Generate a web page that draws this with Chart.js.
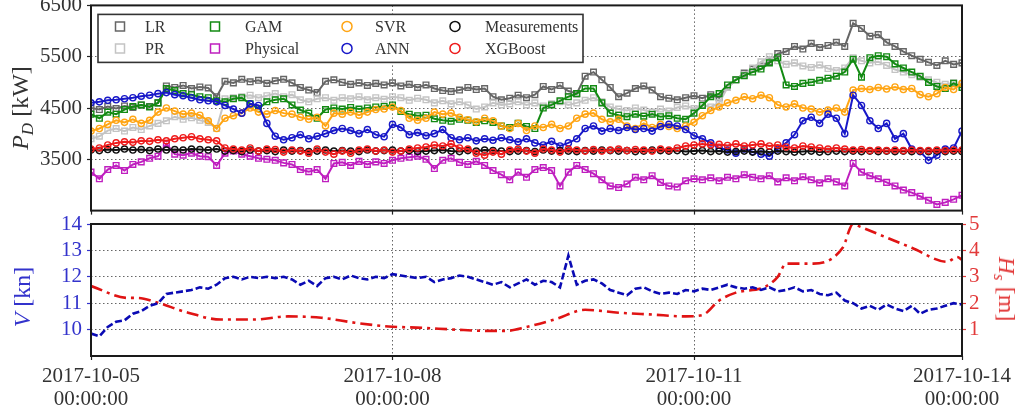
<!DOCTYPE html>
<html>
<head>
<meta charset="utf-8">
<script src="https://cdn.jsdelivr.net/npm/chart.js@4.4.1/dist/chart.umd.min.js"></script>
<style>
  body { margin: 0; background: #fff; }
  #wrap { position: relative; width: 1027px; height: 417px; overflow: hidden; font-family: "Liberation Serif", serif; }
  #wrap canvas { position: absolute; left: 0; }
  .ytitle { position: absolute; white-space: nowrap; font-size: 24px; line-height: 1; }
  .ytitle sub { font-size: 17px; vertical-align: -5px; }
</style>
</head>
<body>
<div id="wrap">
  <canvas id="power" width="1027" height="216" style="top:0"></canvas>
  <canvas id="speed" width="1027" height="201" style="top:216px"></canvas>
  <div class="ytitle" style="left:22px;top:108px;color:#333;transform:translate(-50%,-50%) rotate(-90deg)"><i>P</i><sub><i>D</i></sub> [kW]</div>
  <div class="ytitle" style="left:22px;top:297px;color:#3333cc;transform:translate(-50%,-50%) rotate(-90deg)"><i>V</i> [kn]</div>
  <div class="ytitle" style="left:1005px;top:289px;color:#e23a3a;transform:translate(-50%,-50%) rotate(90deg)"><i>H</i><sub><i>s</i></sub> [m]</div>
</div>
<script>
// time axis: hours after 2017-10-05 00:00, one sample every 2 hours
const hours = Array.from({ length: 105 }, (_, i) => i * 2);
const tickHours = [0, 72, 144, 208];
const tickDates = ["2017-10-05", "2017-10-08", "2017-10-11", "2017-10-14"];
const tickTime = "00:00:00";
const powerTicks = [3500, 4500, 5500, 6500];
const speedTicks = [10, 11, 12, 13, 14];
const waveTicks = [1, 2, 3, 4, 5];

// propulsion power P_D [kW]
const lrPower = [4500,4470,4530,4490,4540,4510,4560,4530,4600,4930,
  4900,4940,4880,4910,4890,4720,5020,4990,5060,5010,
  5040,4980,5030,5060,4990,4900,4850,4800,5020,5050,
  5000,4960,4990,4940,4980,4950,4990,4930,4960,4900,
  4950,4880,4840,4820,4850,4900,4860,4880,4720,4660,
  4690,4750,4700,4760,4920,4860,4940,4830,4780,5120,
  5200,5050,4900,4720,4790,4880,4930,4850,4720,4690,
  4660,4700,4740,4690,4760,4700,4900,5050,5180,5260,
  5320,5400,5560,5600,5700,5650,5760,5680,5720,5780,
  5700,6150,6050,5900,5930,5780,5700,5600,5520,5450,
  5390,5330,5420,5350,5380];
const prPower = [3900,3950,4060,4100,4050,4120,4080,4150,4200,4250,
  4330,4280,4310,4260,4220,4100,4680,4700,4720,4750,
  4700,4740,4780,4720,4760,4660,4620,4680,4700,4650,
  4700,4680,4720,4660,4700,4670,4720,4700,4650,4690,
  4660,4600,4640,4580,4620,4560,4480,4520,4600,4560,
  4580,4620,4560,4600,4540,4580,4620,4560,4600,4650,
  4700,4620,4520,4480,4450,4500,4460,4420,4480,4440,
  4510,4540,4490,4560,4520,4600,4900,5050,5150,5280,
  5400,5500,5420,5350,5380,5320,5290,5340,5270,5230,
  5280,5480,5420,5380,5400,5330,5250,5200,5150,5100,
  5050,5000,4960,4990,4950];
const gamPower = [4380,4300,4420,4380,4470,4530,4560,4520,4600,4880,
  4840,4780,4760,4720,4700,4640,4620,4680,4700,4580,
  4490,4620,4660,4680,4560,4460,4400,4300,4470,4500,
  4480,4510,4480,4500,4520,4530,4560,4430,4380,4350,
  4360,4290,4260,4240,4280,4260,4220,4250,4220,4150,
  4120,4200,4140,4100,4500,4560,4640,4720,4780,4880,
  4880,4600,4400,4360,4330,4380,4340,4380,4330,4350,
  4300,4280,4400,4550,4720,4780,4950,5050,5130,5200,
  5260,5380,5480,4950,4920,4980,5000,5040,5080,5120,
  5200,5450,5100,5480,5520,5500,5360,5280,5200,5120,
  5000,4920,4880,4980,4900];
const physicalPower = [3250,3120,3300,3380,3280,3400,3450,3520,3560,3800,
  3600,3580,3620,3560,3550,3380,3620,3660,3600,3560,
  3520,3500,3480,3430,3400,3300,3260,3300,3120,3420,
  3440,3380,3460,3400,3450,3420,3480,3520,3540,3560,
  3500,3320,3480,3520,3440,3400,3460,3380,3280,3200,
  3100,3250,3150,3300,3340,3280,2980,3250,3380,3300,
  3220,3100,2980,2950,3020,3150,3100,3180,3050,2980,
  2960,3080,3120,3100,3140,3080,3150,3120,3200,3150,
  3120,3180,3060,3140,3080,3160,3100,3040,3120,3060,
  2980,3420,3250,3180,3120,3050,2980,2900,2850,2780,
  2700,2620,2660,2720,2800];
const svrPower = [4050,4100,4180,4260,4220,4280,4200,4260,4420,4500,
  4440,4380,4400,4360,4250,4100,4300,4350,4400,4500,
  4420,4380,4450,4400,4380,4320,4280,4320,4150,4400,
  4380,4420,4360,4420,4470,4480,4520,4450,4300,4260,
  4300,4420,4380,4400,4320,4270,4230,4300,4250,4150,
  4100,4200,4060,4150,4120,4180,4100,4150,4300,4380,
  4400,4280,4230,4280,4150,4100,4200,4120,4180,4140,
  4100,4150,4220,4350,4450,4520,4600,4650,4720,4680,
  4750,4700,4560,4520,4580,4500,4480,4420,4460,4500,
  4420,4850,4880,4860,4900,4870,4910,4860,4880,4760,
  4720,4780,4900,4860,4980];
const annPower = [4600,4620,4650,4660,4680,4700,4730,4750,4780,4800,
  4760,4740,4700,4660,4640,4620,4550,4480,4400,4580,
  4550,4200,3950,3880,3920,3980,3900,3950,4000,4060,
  4100,4060,4000,4080,3980,3940,4180,4120,3980,4020,
  3960,4000,4080,3920,3880,3920,3860,3900,3870,3920,
  3880,3840,3900,3820,3780,3850,3760,3820,3900,4100,
  4150,4050,4100,4060,4120,4080,4100,4050,4140,4180,
  4150,4080,3960,3900,3820,3720,3680,3620,3700,3650,
  3600,3560,3700,3820,3980,4250,4320,4200,4380,4300,
  4000,4750,4550,4250,4100,4200,3900,4000,3700,3650,
  3480,3580,3700,3720,4050];
const measuredPower = [3680,3670,3690,3680,3700,3680,3690,3670,3700,3680,
  3690,3680,3700,3690,3680,3700,3660,3670,3650,3680,
  3660,3670,3650,3680,3660,3670,3650,3660,3680,3660,
  3670,3660,3650,3680,3660,3670,3680,3660,3670,3650,
  3660,3670,3680,3660,3650,3670,3660,3680,3670,3660,
  3650,3660,3670,3650,3680,3660,3670,3660,3650,3670,
  3660,3680,3670,3660,3670,3650,3660,3680,3670,3660,
  3670,3650,3660,3670,3650,3660,3640,3650,3660,3640,
  3650,3640,3660,3650,3640,3650,3660,3640,3650,3660,
  3650,3660,3650,3660,3650,3660,3650,3660,3650,3660,
  3650,3660,3650,3660,3650];
const xgbPower = [3700,3720,3780,3820,3840,3830,3860,3850,3880,3860,
  3900,3920,3940,3900,3880,3860,3720,3700,3680,3720,
  3660,3700,3690,3640,3680,3660,3620,3700,3640,3600,
  3660,3620,3680,3700,3660,3680,3640,3660,3700,3720,
  3740,3780,3760,3800,3720,3700,3620,3580,3640,3600,
  3680,3700,3660,3620,3700,3680,3640,3700,3680,3660,
  3690,3660,3680,3700,3670,3690,3680,3660,3700,3680,
  3720,3760,3780,3800,3780,3790,3770,3800,3760,3780,
  3800,3760,3780,3740,3720,3760,3740,3720,3700,3720,
  3700,3680,3690,3670,3680,3670,3680,3670,3680,3670,
  3670,3680,3670,3680,3680];

// ship speed V [kn]
const speed = [9.85,9.75,10.1,10.3,10.35,10.6,10.7,10.9,11.0,11.35,
  11.4,11.45,11.5,11.6,11.55,11.7,11.95,12.0,11.9,12.0,
  11.95,12.0,11.95,12.0,11.9,11.7,11.85,11.65,11.95,12.0,
  11.9,12.05,11.95,11.9,12.0,11.95,12.1,12.05,12.0,11.95,
  12.0,11.8,11.9,11.95,12.05,12.0,11.9,11.8,11.7,11.8,
  11.6,11.75,11.9,11.7,11.85,11.8,11.6,12.8,11.7,11.85,
  11.9,11.75,11.5,11.4,11.3,11.55,11.6,11.45,11.35,11.4,
  11.35,11.5,11.45,11.55,11.5,11.6,11.7,11.6,11.55,11.6,
  11.5,11.6,11.45,11.5,11.6,11.45,11.5,11.35,11.3,11.4,
  11.1,11.0,10.8,10.9,10.75,10.95,10.8,10.7,10.9,10.6,
  10.75,10.8,10.9,11.0,10.95];

// significant wave height H_s [m]
const waveHours = [0, 8.8, 11.2, 15.3, 23.2, 31, 39, 47, 55, 63, 71, 79, 87, 95, 99, 104, 111, 118, 126, 134,
  142, 146, 150, 154, 161, 164, 166, 172.5, 179.5, 182, 183.6, 196, 204.5, 206.8, 208];
const waveHeight = [2.65, 2.2, 2.2, 2.05, 1.64, 1.38, 1.38, 1.5, 1.45, 1.26, 1.12, 1.07, 1.0, 0.95, 0.95, 1.1, 1.4, 1.75, 1.64, 1.57,
  1.5, 1.55, 2.1, 2.4, 2.62, 3.0, 3.5, 3.5, 4.1, 5.0, 4.9, 4.1, 3.57, 3.75, 3.65];

const models = [
  { label: "LR", data: lrPower, color: "#666666", shape: "rect" },
  { label: "PR", data: prPower, color: "#c4c4c4", shape: "rect" },
  { label: "GAM", data: gamPower, color: "#138a13", shape: "rect" },
  { label: "Physical", data: physicalPower, color: "#bf1fbf", shape: "rect" },
  { label: "SVR", data: svrPower, color: "#ffa514", shape: "circle" },
  { label: "ANN", data: annPower, color: "#1818c8", shape: "circle" },
  { label: "Measurements", data: measuredPower, color: "#111111", shape: "circle" },
  { label: "XGBoost", data: xgbPower, color: "#ee1c1c", shape: "circle" },
];

const serif = "'Liberation Serif', serif";
const toXY = (xs, ys) => ys.map((v, i) => ({ x: xs[i], y: v }));

// box around each plot area
const frame = {
  id: "frame",
  afterDatasetsDraw(chart) {
    const { ctx, chartArea: a } = chart;
    ctx.save();
    ctx.strokeStyle = "#1a1a1a";
    ctx.lineWidth = 2;
    ctx.strokeRect(a.left, a.top, a.right - a.left, a.bottom - a.top);
    ctx.restore();
  },
};

// 4-column legend inside the power panel
const modelLegend = {
  id: "modelLegend",
  afterDraw(chart) {
    const { ctx, chartArea: a } = chart;
    const left = a.left + 7, top = a.top + 9, w = 485, h = 48;
    const markX = [22, 117, 249, 357];
    const textX = [47, 147, 277, 387];
    const rowY = [12, 34];
    ctx.save();
    ctx.fillStyle = "#fff";
    ctx.fillRect(left, top, w, h);
    ctx.strokeStyle = "#333";
    ctx.lineWidth = 1.6;
    ctx.strokeRect(left, top, w, h);
    ctx.font = "16px " + serif;
    ctx.textBaseline = "middle";
    models.forEach((m, i) => {
      const col = Math.floor(i / 2), row = i % 2;
      const mx = left + markX[col], my = top + rowY[row];
      ctx.strokeStyle = m.color;
      ctx.lineWidth = 1.5;
      ctx.beginPath();
      if (m.shape === "rect") ctx.rect(mx - 4.5, my - 4.5, 9, 9);
      else ctx.arc(mx, my, 5, 0, Math.PI * 2);
      ctx.stroke();
      ctx.fillStyle = "#333";
      ctx.fillText(m.label, left + textX[col], my + 1);
    });
    ctx.restore();
  },
};

const gridStyle = { color: "#666", lineWidth: 1, tickLength: 4, tickColor: "#222", tickWidth: 1.2, tickBorderDash: [] };
const dotted = { display: false, dash: [1.5, 2.5] };
const tickFont = { family: serif, size: 21 };
const plain = (v) => String(v);

const setTicks = (values) => (scale) => { scale.ticks = values.map((v) => ({ value: v })); };

// upper panel: power predictions
new Chart(document.getElementById("power"), {
  type: "line",
  data: {
    datasets: models.map((m, i) => ({
      label: m.label,
      data: toXY(hours, m.data),
      borderColor: m.color,
      borderWidth: 2,
      pointStyle: m.shape,
      pointRadius: m.shape === "rect" ? 4 : 3.1,
      pointBorderWidth: 1.4,
      pointBorderColor: m.color,
      pointBackgroundColor: "rgba(0,0,0,0)",
      order: models.length - i,
    })),
  },
  options: {
    responsive: false,
    animation: false,
    devicePixelRatio: 1,
    layout: { padding: { top: 5, right: 65, left: 0, bottom: 0 } },
    plugins: { legend: { display: false }, tooltip: { enabled: false } },
    scales: {
      x: {
        type: "linear", min: 0, max: 208,
        afterBuildTicks: setTicks(tickHours),
        ticks: { display: false },
        grid: gridStyle, border: dotted,
        afterFit: (s) => { s.height = 5; s.paddingLeft = 0; s.paddingRight = 0; },
      },
      y: {
        min: 2500, max: 6500,
        afterBuildTicks: setTicks(powerTicks),
        ticks: { color: "#333", font: tickFont, padding: 5, callback: plain },
        grid: gridStyle, border: dotted,
        afterFit: (s) => { s.width = 91; s.paddingTop = 0; s.paddingBottom = 0; },
      },
    },
  },
  plugins: [frame, modelLegend],
});

// lower panel: speed and wave height
new Chart(document.getElementById("speed"), {
  type: "line",
  data: {
    datasets: [
      {
        label: "V",
        data: toXY(hours, speed),
        yAxisID: "v",
        borderColor: "#0a0ab4",
        borderWidth: 2.6,
        borderDash: [7, 3],
        pointRadius: 0,
      },
      {
        label: "Hs",
        data: toXY(waveHours, waveHeight),
        yAxisID: "hs",
        borderColor: "#e01414",
        borderWidth: 2.6,
        borderDash: [12, 5, 3, 5],
        pointRadius: 0,
        cubicInterpolationMode: "monotone",
      },
    ],
  },
  options: {
    responsive: false,
    animation: false,
    devicePixelRatio: 1,
    layout: { padding: { top: 8, right: 0, left: 0, bottom: 0 } },
    plugins: { legend: { display: false }, tooltip: { enabled: false } },
    scales: {
      x: {
        type: "linear", min: 0, max: 208,
        afterBuildTicks: setTicks(tickHours),
        ticks: {
          color: "#333", font: { ...tickFont, lineHeight: 1.1 }, padding: 5,
          autoSkip: false, maxRotation: 0,
          callback: (v, i) => [tickDates[i], tickTime],
        },
        grid: gridStyle, border: dotted,
        afterFit: (s) => { s.height = 61; s.paddingLeft = 0; s.paddingRight = 0; },
      },
      v: {
        position: "left", min: 9, max: 14,
        afterBuildTicks: setTicks(speedTicks),
        ticks: { color: "#3333cc", font: tickFont, padding: 5, callback: plain },
        grid: { ...gridStyle, tickColor: "#3333cc" }, border: dotted,
        afterFit: (s) => { s.width = 91; s.paddingTop = 0; s.paddingBottom = 0; },
      },
      hs: {
        position: "right", min: 0, max: 5,
        afterBuildTicks: setTicks(waveTicks),
        ticks: { color: "#e23a3a", font: tickFont, padding: 3, callback: plain },
        grid: { ...gridStyle, drawOnChartArea: false, tickColor: "#e23a3a" }, border: dotted,
        afterFit: (s) => { s.width = 65; s.paddingTop = 0; s.paddingBottom = 0; },
      },
    },
  },
  plugins: [frame],
});
</script>
</body>
</html>
